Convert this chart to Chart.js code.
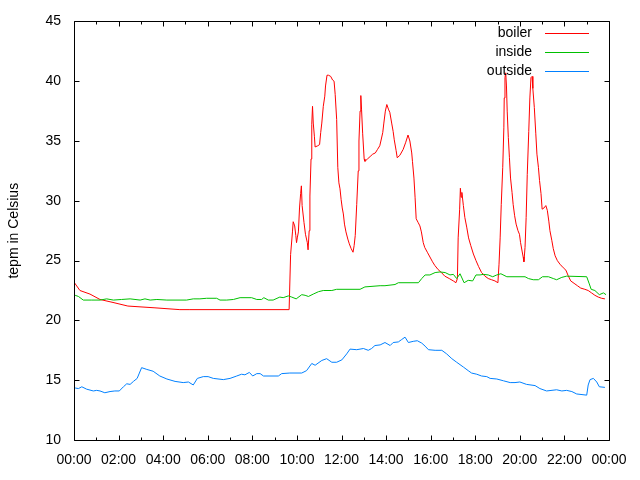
<!DOCTYPE html>
<html>
<head>
<meta charset="utf-8">
<script src="https://cdn.jsdelivr.net/npm/chart.js"></script>
<style>
  html, body { margin: 0; padding: 0; background: #fff; }
  #wrap { width: 640px; height: 480px; }
</style>
</head>
<body>
<div id="wrap"><canvas id="myChart" width="640" height="480"></canvas></div>
<script>
// minutes since midnight
var boilerTimes = [0, 16, 43, 70, 105, 145, 218, 285, 312, 579, 583, 588, 590, 594, 597, 599, 601, 604, 607, 610, 612, 614, 619, 623, 628, 630, 633, 635, 638, 640, 642, 644, 647, 649, 656, 661, 664, 667, 671, 675, 677, 681, 685, 691, 696, 700, 703, 707, 710, 713, 716, 719, 722, 725, 728, 732, 737, 741, 746, 751, 754, 757, 761, 765, 767, 770, 772, 774, 777, 781, 783, 790, 797, 804, 811, 817, 823, 826, 831, 834, 838, 842, 847, 850, 855, 859, 862, 867, 870, 877, 886, 893, 899, 904, 909, 911, 915, 918, 921, 926, 931, 935, 940, 944, 951, 958, 965, 971, 980, 989, 998, 1010, 1021, 1028, 1032, 1034, 1038, 1040, 1042, 1044, 1048, 1052, 1057, 1062, 1068, 1075, 1082, 1089, 1097, 1106, 1115, 1124, 1133, 1141, 1144, 1147, 1150, 1154, 1157, 1158, 1160, 1162, 1164, 1166, 1169, 1172, 1175, 1179, 1182, 1186, 1190, 1195, 1199, 1202, 1206, 1209, 1211, 1214, 1217, 1220, 1224, 1227, 1230, 1233, 1235, 1239, 1243, 1246, 1250, 1253, 1257, 1260, 1265, 1270, 1274, 1278, 1281, 1286, 1290, 1295, 1301, 1308, 1317, 1324, 1330, 1337, 1346, 1355, 1364, 1375, 1384, 1393, 1402, 1411, 1420, 1429];
var boilerTemps = [23.2, 22.5, 22.2, 21.75, 21.5, 21.2, 21.05, 20.9, 20.9, 20.9, 25.5, 27.4, 28.25, 27.9, 27.1, 26.5, 26.9, 27.4, 29.4, 30.6, 31.25, 29.6, 28.2, 27.2, 26.5, 25.9, 27.5, 30.4, 33.5, 36.4, 37.9, 36.5, 35.4, 34.5, 34.6, 34.7, 35.7, 36.5, 37.9, 38.75, 39.6, 40.5, 40.5, 40.4, 40.1, 40.0, 38.9, 36.8, 32.8, 31.5, 31.0, 30.1, 29.4, 28.9, 28.05, 27.4, 26.8, 26.4, 26.0, 25.7, 26.25, 27.1, 29.7, 32.5, 35.0, 37.5, 38.8, 37.6, 35.6, 33.5, 33.3, 33.5, 33.7, 33.9, 34.0, 34.3, 34.6, 35.0, 35.7, 36.5, 37.5, 38.05, 37.6, 37.4, 36.5, 35.8, 35.1, 34.2, 33.6, 33.8, 34.3, 34.9, 35.5, 35.0, 34.0, 33.3, 31.9, 30.3, 28.5, 28.2, 27.9, 27.4, 26.5, 26.1, 25.7, 25.3, 24.9, 24.6, 24.25, 24.0, 23.7, 23.5, 23.3, 23.15, 23.5, 26.9, 29.3, 31.05, 30.3, 30.7, 29.6, 28.6, 27.8, 26.9, 26.25, 25.55, 25.0, 24.5, 24.0, 23.7, 23.5, 23.4, 23.3, 23.15, 24.7, 26.9, 29.7, 32.8, 36.1, 38.6, 40.3, 40.7, 39.6, 37.5, 35.3, 33.6, 31.9, 30.7, 29.7, 28.75, 28.05, 27.5, 27.2, 26.5, 25.8, 25.3, 24.9, 26.1, 28.6, 32.2, 35.8, 38.6, 40.3, 40.4, 39.4, 37.8, 35.6, 33.9, 32.8, 31.7, 30.6, 29.3, 29.4, 29.6, 29.2, 28.3, 27.5, 26.7, 26.0, 25.4, 25.0, 24.7, 24.4, 24.2, 23.75, 23.3, 23.1, 22.9, 22.7, 22.6, 22.5, 22.3, 22.1, 21.95, 21.85, 21.8];

var insideTimes = [3, 12, 25, 48, 70, 88, 106, 128, 151, 178, 191, 205, 223, 250, 303, 321, 339, 357, 384, 393, 411, 429, 447, 478, 492, 505, 511, 523, 536, 554, 563, 577, 586, 598, 613, 622, 631, 644, 658, 671, 694, 707, 770, 783, 824, 837, 864, 873, 927, 936, 945, 958, 972, 985, 999, 1012, 1021, 1030, 1039, 1050, 1061, 1073, 1082, 1093, 1102, 1115, 1127, 1138, 1149, 1165, 1214, 1223, 1236, 1250, 1261, 1277, 1290, 1299, 1313, 1326, 1380, 1387, 1392, 1402, 1414, 1425, 1432];
var insideTemps = [22.1, 22.0, 21.7, 21.7, 21.7, 21.8, 21.7, 21.75, 21.8, 21.7, 21.8, 21.7, 21.75, 21.7, 21.7, 21.8, 21.8, 21.85, 21.85, 21.7, 21.7, 21.75, 21.9, 21.9, 21.75, 21.75, 21.9, 21.7, 21.7, 21.95, 21.9, 22.05, 21.95, 21.8, 22.15, 22.1, 22.0, 22.2, 22.4, 22.5, 22.5, 22.6, 22.6, 22.8, 22.9, 22.9, 23.0, 23.15, 23.15, 23.5, 23.8, 23.8, 24.0, 24.05, 24.0, 23.8, 23.85, 23.5, 23.9, 23.15, 23.35, 23.3, 23.8, 23.8, 23.85, 23.8, 23.65, 23.8, 23.9, 23.65, 23.65, 23.5, 23.4, 23.4, 23.65, 23.65, 23.5, 23.4, 23.6, 23.7, 23.65, 23.05, 22.6, 22.5, 22.15, 22.3, 22.15];

var outsideTimes = [3, 12, 21, 34, 52, 61, 70, 83, 97, 110, 122, 133, 142, 151, 160, 170, 176, 182, 196, 213, 231, 250, 272, 294, 308, 321, 332, 348, 361, 375, 402, 420, 438, 451, 460, 472, 481, 492, 501, 510, 550, 559, 581, 613, 626, 640, 649, 667, 680, 694, 707, 721, 734, 743, 761, 779, 792, 801, 810, 824, 837, 851, 859, 873, 882, 891, 900, 913, 924, 936, 945, 954, 972, 990, 1003, 1017, 1030, 1048, 1061, 1070, 1084, 1097, 1111, 1120, 1138, 1156, 1174, 1187, 1200, 1218, 1241, 1254, 1272, 1299, 1313, 1326, 1340, 1353, 1380, 1384, 1389, 1398, 1407, 1414, 1429];
var outsideTemps = [14.35, 14.3, 14.45, 14.25, 14.1, 14.15, 14.1, 13.95, 14.05, 14.1, 14.1, 14.45, 14.7, 14.65, 14.9, 15.15, 15.6, 16.05, 15.9, 15.75, 15.35, 15.1, 14.9, 14.8, 14.85, 14.6, 15.15, 15.3, 15.3, 15.15, 15.05, 15.15, 15.35, 15.5, 15.45, 15.65, 15.35, 15.55, 15.55, 15.35, 15.35, 15.55, 15.6, 15.6, 15.8, 16.4, 16.25, 16.65, 16.8, 16.5, 16.5, 16.7, 17.2, 17.6, 17.55, 17.65, 17.5, 17.65, 17.9, 17.95, 18.15, 17.9, 18.15, 18.2, 18.4, 18.6, 18.15, 18.25, 18.3, 18.1, 17.85, 17.55, 17.5, 17.5, 17.2, 16.8, 16.5, 16.1, 15.8, 15.6, 15.5, 15.35, 15.3, 15.15, 15.1, 14.95, 14.8, 14.8, 14.85, 14.65, 14.55, 14.3, 14.1, 14.2, 14.1, 14.15, 14.05, 13.85, 13.75, 14.6, 15.05, 15.15, 14.85, 14.45, 14.4];

var seriesNames = ['boiler', 'inside', 'outside'];
var seriesColors = ['#ff0000', '#00c000', '#0080ff'];
var yTicks = [10, 15, 20, 25, 30, 35, 40, 45];

function pairs(t, v) {
    return t.map(function (m, i) { return { x: m, y: v[i] }; });
}

function hhmm(v) {
    var h = Math.floor((v % 1440) / 60);
    return (h < 10 ? '0' : '') + h + ':00';
}

var FONT = { family: '"Liberation Sans", Arial, sans-serif', size: 14 };

// gnuplot style frame: border all round, ticks pointing inward, legend on the right
var gnuplotFrame = {
    id: 'gnuplotFrame',
    afterDatasetsDraw: function (chart) {
        var ctx = chart.ctx, a = chart.chartArea;
        var sx = chart.scales.x, sy = chart.scales.y;
        var L = Math.round(a.left) + 0.5, R = Math.round(a.right) + 0.5;
        var T = Math.round(a.top) + 0.5, B = Math.round(a.bottom) + 0.5;
        ctx.save();
        ctx.strokeStyle = '#000';
        ctx.lineWidth = 1;
        ctx.beginPath();
        ctx.rect(L, T, R - L, B - T);
        // x ticks, major every 2h and minor every hour
        for (var m = 0; m <= 1440; m += 60) {
            var len = (m % 120 === 0) ? 5 : 3;
            var px = Math.round(sx.getPixelForValue(m)) + 0.5;
            ctx.moveTo(px, B); ctx.lineTo(px, B - len);
            ctx.moveTo(px, T); ctx.lineTo(px, T + len);
        }
        yTicks.forEach(function (v) {
            var py = Math.round(sy.getPixelForValue(v)) + 0.5;
            ctx.moveTo(L, py); ctx.lineTo(L + 5, py);
            ctx.moveTo(R, py); ctx.lineTo(R - 5, py);
        });
        ctx.stroke();

        // legend: label text, then a short line sample
        ctx.font = FONT.size + 'px ' + FONT.family;
        ctx.textAlign = 'right';
        ctx.textBaseline = 'middle';
        seriesNames.forEach(function (name, i) {
            var y = 33 + i * 19;
            ctx.fillStyle = '#000';
            ctx.fillText(name, 532, y);
            ctx.beginPath();
            ctx.strokeStyle = seriesColors[i];
            ctx.moveTo(545, y + 0.5);
            ctx.lineTo(589, y + 0.5);
            ctx.stroke();
        });
        ctx.restore();
    }
};

var ctx01 = document.getElementById('myChart');
var chart01 = new Chart(ctx01, {
    type: 'line',
    data: {
        datasets: [
            { label: seriesNames[0], data: pairs(boilerTimes, boilerTemps), borderColor: seriesColors[0], order: 3 },
            { label: seriesNames[1], data: pairs(insideTimes, insideTemps), borderColor: seriesColors[1], order: 2 },
            { label: seriesNames[2], data: pairs(outsideTimes, outsideTemps), borderColor: seriesColors[2], order: 1 }
        ]
    },
    options: {
        responsive: false,
        animation: false,
        layout: { padding: { left: 0, right: 31, top: 20, bottom: 0 } },
        elements: {
            line: { borderWidth: 1, tension: 0, fill: false },
            point: { radius: 0, hoverRadius: 0 }
        },
        plugins: {
            legend: { display: false },
            tooltip: { enabled: false }
        },
        scales: {
            x: {
                type: 'linear',
                min: 0,
                max: 1440,
                grid: { display: false, drawTicks: false },
                border: { display: false },
                ticks: {
                    stepSize: 120,
                    autoSkip: false,
                    maxRotation: 0,
                    minRotation: 0,
                    padding: 12,
                    color: '#000',
                    font: FONT,
                    callback: hhmm
                },
                afterFit: function (s) { s.height = 40; }
            },
            y: {
                min: 10,
                max: 45,
                grid: { display: false, drawTicks: false },
                border: { display: false },
                ticks: { stepSize: 5, padding: 13, color: '#000', font: FONT },
                title: {
                    display: true,
                    text: 'tepm in Celsius',
                    color: '#000',
                    font: FONT,
                    padding: { top: 6, bottom: 0 }
                },
                afterFit: function (s) { s.width = 74; }
            }
        }
    },
    plugins: [gnuplotFrame]
});
</script>
</body>
</html>
